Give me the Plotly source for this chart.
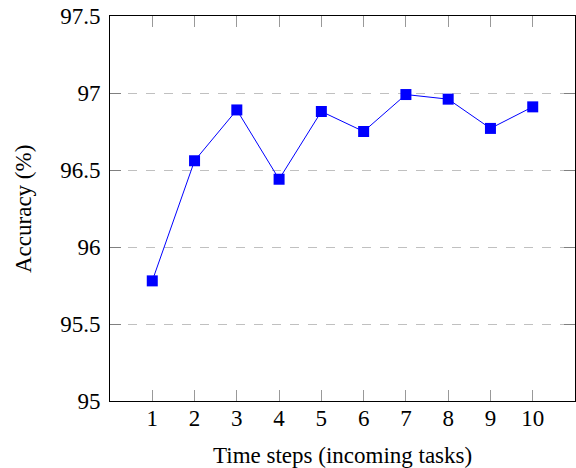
import plotly.graph_objects as go

time_steps = [1, 2, 3, 4, 5, 6, 7, 8, 9, 10]
accuracy = [95.78, 96.56, 96.89, 96.44, 96.88, 96.75, 96.99, 96.96, 96.77, 96.91]
y_ticks = [95, 95.5, 96, 96.5, 97, 97.5]
y_tick_text = ["95", "95.5", "96", "96.5", "97", "97.5"]

FONT = "Liberation Serif"

W, H = 576, 468
L, T, R, B = 110, 16, 1, 67
pw = W - L - R
ph = H - T - B


def px_x(page_x):
    return (page_x - L) / pw


def px_y(page_y):
    return (H - B - page_y) / ph


fig = go.Figure()
fig.add_trace(go.Scatter(
    x=time_steps, y=accuracy, mode="lines+markers",
    line=dict(color="#0000ff", width=1),
    marker=dict(symbol="square", size=11, color="#0000ff"),
    showlegend=False,
))

fig.update_layout(
    width=W, height=H,
    margin=dict(l=L, r=R, t=T, b=B, autoexpand=False),
    paper_bgcolor="white", plot_bgcolor="white",
    font=dict(family=FONT, size=23, color="black"),
    xaxis=dict(
        range=[0, 11], tickvals=time_steps, ticktext=[str(t) for t in time_steps],
        showgrid=False, zeroline=False, automargin=False,
        showline=True, linecolor="black", linewidth=1, mirror="ticks",
        ticks="inside", ticklen=11, tickcolor="#999999", tickwidth=1,
        tickfont=dict(family=FONT, size=23, color="black"),
        ticklabelstandoff=-4, ticklabeloverflow="allow",
    ),
    yaxis=dict(
        range=[95, 97.5], tickvals=y_ticks, ticktext=y_tick_text,
        showgrid=True, gridcolor="#c0c0c0", gridwidth=1, griddash="dash",
        zeroline=False, automargin=False,
        showline=True, linecolor="black", linewidth=1, mirror="ticks",
        ticks="inside", ticklen=11, tickcolor="#808080", tickwidth=1,
        tickfont=dict(family=FONT, size=23, color="black"),
        ticklabelstandoff=4, ticklabeloverflow="allow",
    ),
    annotations=[
        dict(text="Time steps (incoming tasks)", xref="paper", yref="paper",
             x=px_x(342), y=px_y(455), xanchor="center", yanchor="middle",
             showarrow=False, font=dict(family=FONT, size=23, color="black")),
        dict(text="Accuracy (%)", textangle=-90, xref="paper", yref="paper",
             x=px_x(23), y=px_y(209), xanchor="center", yanchor="middle",
             showarrow=False, font=dict(family=FONT, size=23, color="black")),
    ],
)

# remove the default 8px page margin so the figure fills the window exactly
fig.write_html("out.html", config={"displayModeBar": False},
               post_script="document.body.style.margin='0';")
